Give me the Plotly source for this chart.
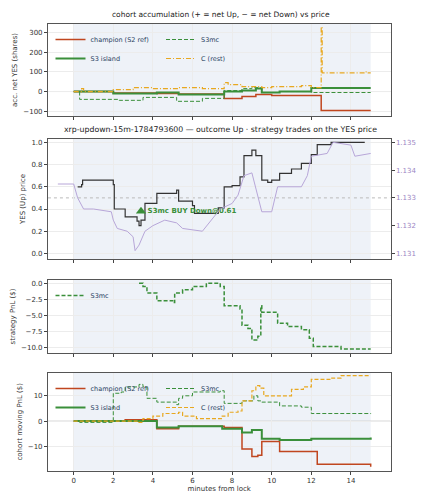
import plotly.graph_objects as go

# ---- panel 1: cohort accumulation (net YES shares)
acc_champ_t = [0, 2.0, 4.2, 5.3, 7.6, 8.5, 9.2, 10.0, 12.5, 15]
acc_champ_v = [0, -8, -10, -12, -35, -25, -15, -20, -97, -97]
acc_island_t = [0, 2.0, 4.2, 5.3, 7.6, 8.5, 9.2, 9.5, 10.4, 12.0, 15]
acc_island_v = [0, -10, -5, -15, 0, 5, 15, -5, 0, 18, 18]
acc_s3mc_t = [0, 0.3, 2.3, 3.5, 5.2, 6.5, 7.6, 8.5, 9.0, 9.5, 10.4, 12.0, 15]
acc_s3mc_v = [0, -40, -45, -30, -50, -35, 5, 15, 20, -5, 0, -5, -5]
acc_c_t = [0, 0.4, 0.5, 2.0, 3.0, 4.0, 5.3, 6.5, 7.6, 7.8, 8.5, 9.5, 10.0, 11.5, 12.0, 12.5, 12.55, 14.7, 14.8, 15]
acc_c_v = [0, 15, 0, 10, 20, 15, 20, 15, 45, 35, 25, 20, 25, 30, 20, 330, 95, 100, 95, 95]

# ---- panel 2: YES price + XRP/USD
yes_t = [0.2, 0.4, 0.45, 2.0, 2.05, 2.6, 3.2, 3.3, 3.4, 3.6, 4.2, 5.2, 5.3, 6.0, 6.1, 7.3, 7.6, 8.0, 8.4, 8.6, 9.0, 9.2, 9.5, 9.8, 10.0, 10.4, 11.0, 11.5, 12.0, 12.3, 13.0, 14.7]
yes_v = [0.6, 0.62, 0.66, 0.62, 0.4, 0.33, 0.29, 0.25, 0.3, 0.45, 0.54, 0.57, 0.47, 0.43, 0.36, 0.41, 0.6, 0.61, 0.69, 0.88, 0.93, 0.88, 0.66, 0.64, 0.66, 0.72, 0.76, 0.81, 0.89, 0.98, 1.0, 1.0]
xrp_t = [-0.8, 0.0, 0.2, 0.5, 1.0, 1.9, 2.0, 2.2, 2.7, 3.0, 3.1, 3.3, 3.6, 4.0, 4.6, 5.2, 5.5, 6.5, 7.4, 8.0, 8.3, 8.6, 9.0, 9.2, 9.5, 10.0, 10.3, 11.5, 11.8, 12.0, 12.8, 13.1, 14.0, 14.2, 15.0]
xrp_v = [1.1335, 1.1335, 1.1330, 1.1326, 1.1326, 1.1325, 1.1322, 1.1319, 1.1318, 1.1316, 1.1311, 1.1313, 1.1318, 1.1320, 1.1322, 1.1321, 1.1319, 1.1318, 1.1326, 1.1328, 1.1331, 1.1338, 1.1339, 1.1333, 1.1325, 1.1325, 1.1334, 1.1334, 1.1338, 1.1345, 1.1346, 1.1350, 1.1349, 1.1345, 1.1346]
trade_t = [3.4]
trade_v = [0.38]
trade_label = "S3mc BUY Down@0.61"

# ---- panel 3: strategy PnL
pnl_t = [3.3, 3.5, 3.7, 4.2, 5.0, 5.1, 5.5, 6.0, 6.7, 7.4, 7.6, 8.4, 8.5, 8.8, 9.0, 9.3, 9.45, 9.5, 10.3, 10.8, 11.5, 11.9, 12.1, 13.5, 15]
pnl_v = [0, -0.5, -1.5, -2.7, -3.0, -1.5, -1.0, -0.5, 0, -0.5, -3.5, -4.0, -6.5, -7.0, -8.8, -8.2, -3.5, -4.5, -6.2, -6.7, -7.2, -8.5, -9.8, -10.2, -10.2]

# ---- panel 4: cohort moving PnL
mp_champ_t = [0, 2.6, 4.2, 5.3, 7.6, 8.5, 9.0, 9.3, 9.5, 10.4, 12.3, 14.95, 15]
mp_champ_v = [0, 0.5, -3, -2, -2.5, -11, -14, -13.5, -8, -12, -17, -17, -18]
mp_island_t = [0, 4.2, 5.3, 7.5, 8.5, 9.0, 9.5, 10.4, 12.0, 15]
mp_island_v = [0, -2.5, -2, -3, -4.5, -3.5, -7, -7.5, -7, -6.5]
mp_s3mc_t = [0, 0.3, 2.0, 2.4, 2.6, 3.3, 3.5, 3.7, 4.2, 5.2, 5.3, 5.5, 6.0, 7.4, 7.6, 8.5, 9.1, 9.3, 9.5, 10.4, 11.5, 12.0, 15]
mp_s3mc_v = [0, -0.5, 11, 11.5, 13.5, 14.5, 13.5, 9, 7.5, 6.5, 9, 10, 11.5, 12, 7, 8, 10, 8, 7.5, 6, 5.5, 3, 2.8]
mp_c_t = [0, 3.2, 3.5, 4.0, 4.5, 5.3, 5.5, 6.2, 7.5, 7.8, 8.3, 8.5, 9.0, 9.2, 9.4, 9.6, 10.5, 11.0, 11.6, 12.0, 13.0, 13.5, 15]
mp_c_v = [0, -0.5, 1, 2, 3, 3.5, 2, 1, 2, 3.5, 4, 8, 12, 14, 13, 10, 10, 12.5, 13.5, 16.5, 17, 18, 18]

RED = "#c0461f"
GREEN = "#3a8f3a"
GOLD = "#e8a820"
FONT = "DejaVu Sans"
DASH = "4px,2px"

fig = go.Figure()

def step(x, y, color, name, dash="solid", width=1.5, xa="x", ya="y", legend="legend", show=True):
    fig.add_trace(go.Scatter(x=x, y=y, mode="lines", line=dict(color=color, dash=dash, width=width, shape="hv"),
                             name=name, xaxis=xa, yaxis=ya, legend=legend, showlegend=show))

# panel 1
step(acc_champ_t, acc_champ_v, RED, "champion (S2 ref)", legend="legend")
step(acc_island_t, acc_island_v, GREEN, "S3 island", width=2, legend="legend")
step(acc_s3mc_t, acc_s3mc_v, GREEN, "S3mc", dash=DASH, width=1, legend="legend2")
step(acc_c_t, acc_c_v, GOLD, "C (rest)", dash="5px,2px,1px,2px", width=1.2, legend="legend2")

# panel 2
fig.add_trace(go.Scatter(x=xrp_t, y=xrp_v, mode="lines", line=dict(color="#b7a6d8", width=1),
                         xaxis="x2", yaxis="y5", showlegend=False))
step(yes_t, yes_v, "#333333", "YES", width=1.2, xa="x2", ya="y2", show=False)
fig.add_trace(go.Scatter(x=trade_t, y=trade_v, mode="markers+text", text=[trade_label],
                         textposition="middle right", textfont=dict(color=GREEN, size=7, family=FONT, weight="bold"),
                         marker=dict(symbol="triangle-up", size=9, color=GREEN),
                         xaxis="x2", yaxis="y2", showlegend=False))

# panel 3
step(pnl_t, pnl_v, GREEN, "S3mc", dash=DASH, width=1.5, xa="x3", ya="y3", legend="legend5")

# panel 4
step(mp_champ_t, mp_champ_v, RED, "champion (S2 ref)", xa="x4", ya="y4", legend="legend3")
step(mp_island_t, mp_island_v, GREEN, "S3 island", width=2, xa="x4", ya="y4", legend="legend3")
step(mp_s3mc_t, mp_s3mc_v, GREEN, "S3mc", dash=DASH, width=1, xa="x4", ya="y4", legend="legend4")
step(mp_c_t, mp_c_v, GOLD, "C (rest)", dash=DASH, width=1.2, xa="x4", ya="y4", legend="legend4")

xd = [0.094, 0.9]
ydoms = {"y": [0.784, 0.968], "y2": [0.498, 0.738], "y3": [0.31, 0.456], "y4": [0.075, 0.27]}
axfont = dict(family=FONT, size=7, color="#333")
common_x = dict(range=[-1.3, 16], domain=xd, showgrid=True, gridcolor="#ececec", tickvals=[0, 2, 4, 6, 8, 10, 12, 14],
                ticks="outside", ticklen=3, tickfont=axfont, showline=True, linecolor="#555", mirror=True, zeroline=False)
common_y = dict(showgrid=True, gridcolor="#ececec", ticks="outside", ticklen=3, tickfont=axfont,
                showline=True, linecolor="#555", mirror=True, zeroline=False, title_font=axfont, title_standoff=4)

fig.update_layout(
    width=425, height=500, margin=dict(l=0, r=0, t=0, b=0),
    paper_bgcolor="white", plot_bgcolor="white", font=dict(family=FONT, size=7),
    xaxis=dict(common_x, anchor="y", showticklabels=False),
    xaxis2=dict(common_x, anchor="y2", showticklabels=False),
    xaxis3=dict(common_x, anchor="y3", showticklabels=False),
    xaxis4=dict(common_x, anchor="y4", title=dict(text="minutes from lock", font=axfont, standoff=2)),
    yaxis=dict(common_y, domain=ydoms["y"], anchor="x", range=[-125, 345], tickvals=[-100, 0, 100, 200, 300],
               ticktext=["−100", "0", "100", "200", "300"], title_text="acc. net YES (shares)"),
    yaxis2=dict(common_y, domain=ydoms["y2"], anchor="x2", range=[-0.05, 1.03], tickvals=[0, 0.2, 0.4, 0.6, 0.8, 1.0],
                tickformat=".1f", title_text="YES (Up) price"),
    yaxis5=dict(overlaying="y2", side="right", anchor="x2", range=[1.1308, 1.13512], tickvals=[1.131, 1.132, 1.133, 1.134, 1.135],
                tickformat=".3f", ticks="outside", ticklen=3, showgrid=False, zeroline=False,
                tickfont=dict(family=FONT, size=7, color="#9b86c4"),
                title=dict(text="XRP/USD (strike dotted = YES 0.5)", font=dict(family=FONT, size=6, color="#9b86c4"), standoff=3)),
    yaxis3=dict(common_y, domain=ydoms["y3"], anchor="x3", range=[-10.8, 0.5], tickvals=[0, -2.5, -5, -7.5, -10],
                ticktext=["0.0", "−2.5", "−5.0", "−7.5", "−10.0"], title_text="strategy PnL ($)"),
    yaxis4=dict(common_y, domain=ydoms["y4"], anchor="x4", range=[-19.5, 19], tickvals=[-10, 0, 10],
                ticktext=["−10", "0", "10"], title_text="cohort moving PnL ($)"),
)

leg = dict(font=dict(family=FONT, size=6.5), bgcolor="rgba(255,255,255,0)", tracegroupgap=0,
           itemwidth=30, xanchor="left", yanchor="top")
fig.update_layout(
    legend=dict(leg, x=0.1, y=0.966),
    legend2=dict(leg, x=0.36, y=0.966),
    legend3=dict(leg, x=0.1, y=0.268),
    legend4=dict(leg, x=0.36, y=0.268),
    legend5=dict(leg, x=0.1, y=0.454),
)

# shaded window and reference lines
for ya in ["y", "y2", "y3", "y4"]:
    xa = "x" if ya == "y" else "x" + ya[1:]
    fig.add_shape(type="rect", xref=xa, yref=ya + " domain", x0=0, x1=15, y0=0, y1=1,
                  fillcolor="#eef2f8", line_width=0, layer="below")
for ya in ["y", "y4"]:
    xa = "x" if ya == "y" else "x4"
    fig.add_shape(type="line", xref=xa + " domain", yref=ya, x0=0, x1=1, y0=0, y1=0,
                  line=dict(color="#cccccc", width=1), layer="below")
fig.add_shape(type="line", xref="x2 domain", yref="y2", x0=0, x1=1, y0=0.5, y1=0.5,
              line=dict(color="#bbbbbb", width=1, dash="dot"), layer="below")

titles = [("cohort accumulation (+ = net Up, − = net Down) vs price", 0.974, 7.5),
          ("xrp-updown-15m-1784793600 — outcome Up · strategy trades on the YES price", 0.744, 7.8)]
for txt, y, s in titles:
    fig.add_annotation(text=txt, x=0.5, y=y, xref="paper", yref="paper", showarrow=False, yanchor="bottom",
                       font=dict(family=FONT, size=s, color="#222"))

fig.write_html("out.html")
